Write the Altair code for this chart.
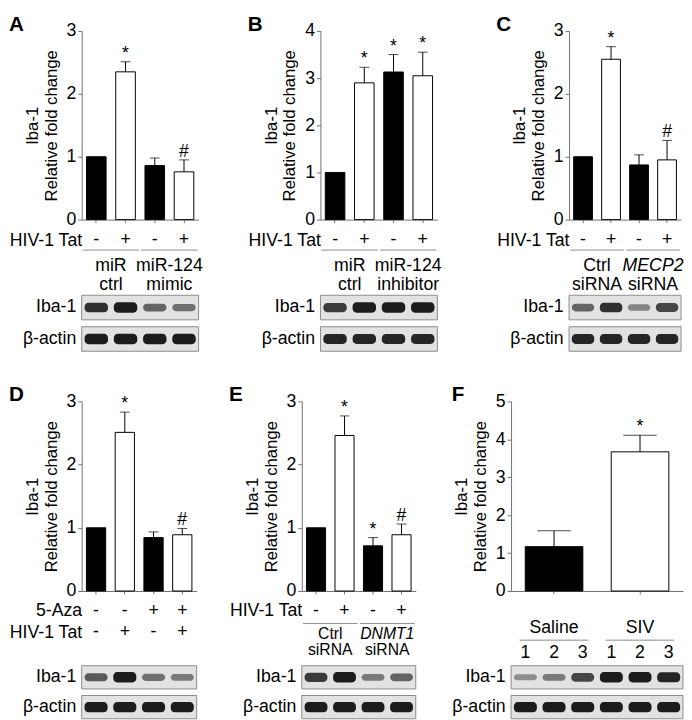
import altair as alt
import pandas as pd

FONT = "Liberation Sans"
GREY = "#707070"
LINE_GREY = "#8a8a8a"

# ---------------- data ----------------
# Panel A
A_values = [1.0, 2.35, 0.86, 0.76]
A_errors = [0.0, 0.16, 0.12, 0.19]
A_signif = ["", "*", "", "#"]
A_tat = ["-", "+", "-", "+"]
A_group_top = ["miR", "miR-124"]
A_group_bottom = ["ctrl", "mimic"]
A_group_italic = [False, False]
A_iba1 = [0.85, 0.95, 0.6, 0.55]
A_actin = [0.95, 0.95, 0.95, 0.95]

# Panel B
B_values = [1.0, 2.9, 3.13, 3.05]
B_errors = [0.0, 0.33, 0.37, 0.5]
B_signif = ["", "*", "*", "*"]
B_tat = ["-", "+", "-", "+"]
B_group_top = ["miR", "miR-124"]
B_group_bottom = ["ctrl", "inhibitor"]
B_group_italic = [False, False]
B_iba1 = [0.8, 0.95, 0.95, 0.95]
B_actin = [0.9, 0.9, 0.9, 0.9]

# Panel C
C_values = [1.0, 2.55, 0.87, 0.95]
C_errors = [0.0, 0.2, 0.16, 0.31]
C_signif = ["", "*", "", "#"]
C_tat = ["-", "+", "-", "+"]
C_group_top = ["Ctrl", "MECP2"]
C_group_bottom = ["siRNA", "siRNA"]
C_group_italic = [False, True]
C_iba1 = [0.6, 0.85, 0.45, 0.75]
C_actin = [0.9, 0.9, 0.9, 0.9]

# Panel D
D_values = [1.0, 2.51, 0.845, 0.89]
D_errors = [0.0, 0.32, 0.09, 0.1]
D_signif = ["", "*", "", "#"]
D_aza = ["-", "-", "+", "+"]
D_tat = ["-", "+", "-", "+"]
D_iba1 = [0.65, 0.95, 0.55, 0.5]
D_actin = [0.95, 0.95, 0.95, 0.95]

# Panel E
E_values = [1.0, 2.46, 0.715, 0.89]
E_errors = [0.0, 0.31, 0.13, 0.17]
E_signif = ["", "*", "*", "#"]
E_tat = ["-", "+", "-", "+"]
E_group_top = ["Ctrl", "DNMT1"]
E_group_bottom = ["siRNA", "siRNA"]
E_group_italic = [False, True]
E_iba1 = [0.8, 0.95, 0.5, 0.6]
E_actin = [0.95, 0.95, 0.95, 0.95]

# Panel F
F_groups = ["Saline", "SIV"]
F_values = [1.17, 3.67]
F_errors = [0.42, 0.44]
F_signif = ["", "*"]
F_fill = ["-", "+"]
F_lane_numbers = ["1", "2", "3", "1", "2", "3"]
F_iba1 = [0.4, 0.5, 0.75, 0.95, 0.95, 0.9]
F_actin = [0.95, 0.95, 0.95, 0.95, 0.95, 0.95]


# ---------------- builders ----------------
def bar_chart(values, errors, signif, fills, ymax, width, height, cap):
    n = len(values)
    df = pd.DataFrame({
        "lane": [f"L{i}" for i in range(n)],
        "value": values,
        "err": errors,
        "sig": signif,
        "fill": fills,
    })
    df["top"] = df["value"] + df["err"]
    base = alt.Chart(df)
    xs = alt.Scale(paddingInner=0.33, paddingOuter=0.165)
    xaxis = alt.Axis(title=None, labels=False, ticks=True, tickSize=3,
                     tickColor=GREY, domainColor=GREY)
    x = alt.X("lane:N", sort=None, scale=xs, axis=xaxis)
    ys = alt.Scale(domain=[0, ymax], nice=False)
    yaxis = alt.Axis(title=["Iba-1", "Relative fold change"],
                     values=list(range(0, ymax + 1)), tickCount=ymax + 1, format="d",
                     grid=False, labelOverlap=False,
                     tickSize=4, tickColor=GREY, domainColor=GREY,
                     labelFontSize=18, labelPadding=2, labelColor="black",
                     titleFontSize=17, titleFontWeight="normal",
                     titleColor="black", titlePadding=6, titleLineHeight=19)
    bars = base.mark_bar(stroke="black", strokeWidth=1).encode(
        x=x,
        y=alt.Y("value:Q", scale=ys, axis=yaxis),
        fill=alt.Fill("fill:N", scale=alt.Scale(domain=["-", "+"], range=["black", "white"]),
                      legend=None),
    )
    errd = base.transform_filter("datum.err > 0")
    whisk = errd.mark_rule(color="black", strokeWidth=1).encode(
        x=x, y=alt.Y("value:Q", scale=ys), y2="top:Q")
    capm = errd.mark_tick(color="black", thickness=1, size=cap).encode(
        x=x, y=alt.Y("top:Q", scale=ys))
    txt = base.transform_filter("datum.sig != ''").mark_text(
        fontSize=18, baseline="alphabetic", dy=-3, color="black").encode(
        x=x, y=alt.Y("top:Q", scale=ys), text="sig:N")
    return alt.layer(bars, whisk, capm, txt).properties(width=width, height=height)


def label_chart(n, width, height, treatments, row_domain, row_range,
                groups=None, rule_offset=0, line_gap=20, inset=0.04,
                lane_numbers=None, group_font=18):
    xs = alt.Scale(domain=[0, n], nice=False, zero=False)
    ys = alt.Scale(domain=row_domain, range=row_range, type="point", padding=0)
    treat_labels = [t[0] for t in treatments]
    if treat_labels:
        yaxis = alt.Axis(values=treat_labels, title=None, domain=False, ticks=False,
                         tickSize=0, labelPadding=0, labelFontSize=18,
                         labelColor="black", grid=False)
    else:
        yaxis = None
    layers = []
    sym_rows = []
    for label, symbols in treatments:
        for i, s in enumerate(symbols):
            sym_rows.append({"pos": i + 0.5, "row": label, "sym": s})
    if not sym_rows:
        sym_rows = [{"pos": 0.5, "row": row_domain[0], "sym": ""}]
    layers.append(alt.Chart(pd.DataFrame(sym_rows)).mark_text(
        fontSize=18, baseline="middle", color="black").encode(
        x=alt.X("pos:Q", scale=xs, axis=None),
        y=alt.Y("row:N", scale=ys, axis=yaxis, sort=None),
        text="sym:N"))
    if groups:
        gdf = pd.DataFrame(groups)
        gdf["row"] = "grp"
        gdf["start"] = gdf["first"] + inset
        gdf["end"] = gdf["last"] + 1 - inset
        gdf["mid"] = (gdf["first"] + gdf["last"] + 1) / 2
        gch = alt.Chart(gdf)
        layers.append(gch.mark_rule(color=LINE_GREY, strokeWidth=1, yOffset=rule_offset).encode(
            x=alt.X("start:Q", scale=xs), x2="end:Q",
            y=alt.Y("row:N", scale=ys, sort=None)))
        top_dy = -line_gap / 2 if lane_numbers is None else 0
        layers.append(gch.transform_filter("!datum.italic").mark_text(
            fontSize=group_font, baseline="middle", color="black", dy=top_dy).encode(
            x=alt.X("mid:Q", scale=xs), y=alt.Y("row:N", scale=ys, sort=None), text="top:N"))
        layers.append(gch.transform_filter("datum.italic").mark_text(
            fontSize=group_font, baseline="middle", color="black", dy=top_dy,
            fontStyle="italic").encode(
            x=alt.X("mid:Q", scale=xs), y=alt.Y("row:N", scale=ys, sort=None), text="top:N"))
        if lane_numbers is None:
            layers.append(gch.mark_text(
                fontSize=group_font, baseline="middle", color="black", dy=line_gap / 2).encode(
                x=alt.X("mid:Q", scale=xs), y=alt.Y("row:N", scale=ys, sort=None),
                text="bottom:N"))
    if lane_numbers is not None:
        ndf = pd.DataFrame({"pos": [i + 0.5 for i in range(n)], "row": "num",
                            "num": lane_numbers})
        layers.append(alt.Chart(ndf).mark_text(
            fontSize=18, baseline="middle", color="black").encode(
            x=alt.X("pos:Q", scale=xs), y=alt.Y("row:N", scale=ys, sort=None),
            text="num:N"))
    return alt.layer(*layers).properties(width=width, height=height)


def blot_chart(iba1, actin, width, height):
    n = len(iba1)
    rows = ["Iba-1", "β-actin"]
    xs = alt.Scale(domain=[0, n], nice=False, zero=False)
    ys = alt.Scale(domain=rows, paddingInner=0.22, paddingOuter=0)
    box = pd.DataFrame({"row": rows, "start": [0, 0], "end": [n, n]})
    band_rows = []
    for row, vals in zip(rows, [iba1, actin]):
        for i, v in enumerate(vals):
            band_rows.append({"row": row, "start": i + 0.1, "end": i + 0.9,
                              "intensity": v})
    bands = pd.DataFrame(band_rows)
    boxes = alt.Chart(box).mark_rect(fill="#e2e2e2", stroke="#8c8c8c", strokeWidth=1).encode(
        x=alt.X("start:Q", scale=xs, axis=None), x2="end:Q",
        y=alt.Y("row:N", scale=ys, sort=None,
                axis=alt.Axis(title=None, domain=False, ticks=False, tickSize=0,
                              labelPadding=6, labelFontSize=18, labelColor="black")))
    bandm = alt.Chart(bands).mark_bar(color="#111111", cornerRadius=4).encode(
        x=alt.X("start:Q", scale=xs), x2="end:Q",
        y=alt.Y("row:N", scale=ys, sort=None),
        opacity=alt.Opacity("intensity:Q", scale=None),
        size=alt.Size("intensity:Q", scale=alt.Scale(domain=[0, 1], range=[3, 11]),
                      legend=None))
    return alt.layer(boxes, bandm).properties(width=width, height=height)


def groups_of(top, bottom, italic, spans):
    return [{"top": t, "bottom": b, "italic": it, "first": s[0], "last": s[1]}
            for t, b, it, s in zip(top, bottom, italic, spans)]


def panel(letter, bars, labels, blot):
    return alt.vconcat(bars, labels, blot, spacing=0).properties(
        title=alt.TitleParams(text=letter, anchor="start", fontSize=21,
                              fontWeight="bold", offset=-13, font=FONT, color="black"))


SPANS4 = [(0, 1), (2, 3)]
LAB_H1 = 64
LAB_H2 = 66

pA = panel("A",
           bar_chart(A_values, A_errors, A_signif, A_tat, 3, 119, 192, 10),
           label_chart(4, 119, LAB_H1, [("HIV-1 Tat", A_tat)], ["HIV-1 Tat", "grp"], [12, 48],
                       groups_of(A_group_top, A_group_bottom, A_group_italic, SPANS4),
                       rule_offset=-26, line_gap=20),
           blot_chart(A_iba1, A_actin, 119, 57))
pB = panel("B",
           bar_chart(B_values, B_errors, B_signif, B_tat, 4, 119, 192, 10),
           label_chart(4, 119, LAB_H1, [("HIV-1 Tat", B_tat)], ["HIV-1 Tat", "grp"], [12, 48],
                       groups_of(B_group_top, B_group_bottom, B_group_italic, SPANS4),
                       rule_offset=-26, line_gap=20),
           blot_chart(B_iba1, B_actin, 119, 57))
pC = panel("C",
           bar_chart(C_values, C_errors, C_signif, C_tat, 3, 114, 192, 10),
           label_chart(4, 114, LAB_H1, [("HIV-1 Tat", C_tat)], ["HIV-1 Tat", "grp"], [12, 48],
                       groups_of(C_group_top, C_group_bottom, C_group_italic, SPANS4),
                       rule_offset=-26, line_gap=20),
           blot_chart(C_iba1, C_actin, 114, 57))
pD = panel("D",
           bar_chart(D_values, D_errors, D_signif, D_tat, 3, 117, 193, 10),
           label_chart(4, 117, LAB_H2, [("5-Aza", D_aza), ("HIV-1 Tat", D_tat)],
                       ["5-Aza", "HIV-1 Tat"], [11, 33]),
           blot_chart(D_iba1, D_actin, 117, 54))
pE = panel("E",
           bar_chart(E_values, E_errors, E_signif, E_tat, 3, 116, 193, 10),
           label_chart(4, 116, LAB_H2, [("HIV-1 Tat", E_tat)], ["HIV-1 Tat", "grp"], [11, 43],
                       groups_of(E_group_top, E_group_bottom, E_group_italic, SPANS4),
                       rule_offset=-19, line_gap=17, group_font=16),
           blot_chart(E_iba1, E_actin, 116, 54))
pF = panel("F",
           bar_chart(F_values, F_errors, F_signif, F_fill, 5, 175, 193, 34),
           label_chart(6, 175, LAB_H2, [], ["grp", "num"], [29, 54],
                       groups_of(F_groups, ["", ""], [False, False], [(0, 2), (3, 5)]),
                       rule_offset=12, inset=0.3, lane_numbers=F_lane_numbers),
           blot_chart(F_iba1, F_actin, 175, 54))

row1 = alt.hconcat(alt.hconcat(pA, pB, spacing=44), pC, spacing=54)
row2 = alt.hconcat(alt.hconcat(pD, pE, spacing=31), pF, spacing=35)

chart = alt.vconcat(row1, row2, spacing=33).properties(
    padding={"left": 0, "top": 0, "right": 0, "bottom": 0}
).configure(font=FONT).configure_view(stroke=None).configure_axis(
    labelFont=FONT, titleFont=FONT
).configure_text(font=FONT)

chart.save("out.html", embed_options={"renderer": "svg", "actions": False})
